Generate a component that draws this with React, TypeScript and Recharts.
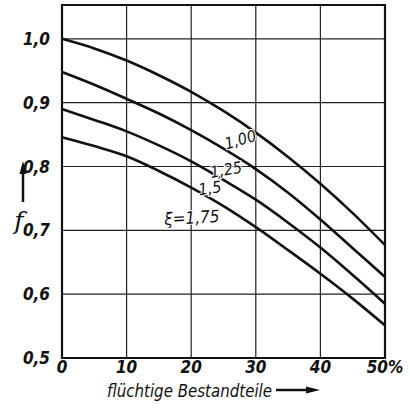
import React from 'react';
import {
  LineChart,
  Line,
  XAxis,
  YAxis,
  CartesianGrid,
  ReferenceArea,
  ReferenceDot,
  Customized,
} from 'recharts';

// flüchtige Bestandteile in %
const pct = [0, 5, 10, 15, 20, 25, 30, 35, 40, 45, 50];
// f for each xi curve
const xi100 = [1.0, 0.985, 0.966, 0.943, 0.917, 0.887, 0.853, 0.815, 0.773, 0.727, 0.677];
const xi125 = [0.948, 0.928, 0.906, 0.883, 0.857, 0.828, 0.796, 0.759, 0.717, 0.672, 0.627];
const xi150 = [0.89, 0.873, 0.855, 0.833, 0.808, 0.779, 0.748, 0.712, 0.673, 0.63, 0.585];
const xi175 = [0.846, 0.832, 0.816, 0.793, 0.767, 0.738, 0.705, 0.669, 0.632, 0.593, 0.551];

const xTicks = [0, 10, 20, 30, 40, 50];
const yTicks = [0.5, 0.6, 0.7, 0.8, 0.9, 1.0];
const yTop = 1.053;

// curve labels: text, x, y (data coords), rotation
const curveLabels = [
  { text: '1,00', x: 27.6, y: 0.842, angle: -16 },
  { text: '1,25', x: 25.4, y: 0.795, angle: -10 },
  { text: '1,5', x: 22.9, y: 0.766, angle: -8 },
  { text: 'ξ=1,75', x: 20.1, y: 0.72, angle: -3 },
];

const FONT = "'DejaVu Sans Condensed', 'DejaVu Sans', sans-serif";
const INK = '#111';

const data = pct.map((p, i) => ({
  p,
  a: xi100[i],
  b: xi125[i],
  c: xi150[i],
  d: xi175[i],
}));

const tickStyle = {
  fontSize: 17,
  fontStyle: 'italic',
  fontStretch: 'condensed',
  fontWeight: 'bold',
  fill: INK,
  fontFamily: FONT,
};

function Overlay() {
  return (
    <g>
      {/* f with arrow */}
      <line x1={23} y1={202} x2={23} y2={172} stroke={INK} strokeWidth={2.5} />
      <polygon points="23,161 19.5,174 26.5,174" fill={INK} />
      <text
        x={19}
        y={229}
        textAnchor="middle"
        fontFamily="'DejaVu Serif', serif"
        fontStyle="italic"
        fontSize={25}
        fill={INK}
      >
        f
      </text>
      {/* x axis title with arrow */}
      <text
        x={107}
        y={397}
        fontFamily={FONT}
        fontStyle="italic"
        fontStretch="condensed"
        fontSize={18}
        textLength={165}
        lengthAdjust="spacingAndGlyphs"
        fill={INK}
      >
        flüchtige Bestandteile
      </text>
      <line x1={276} y1={390} x2={308} y2={390} stroke={INK} strokeWidth={2.5} />
      <polygon points="320,390 306,386.5 306,393.5" fill={INK} />
    </g>
  );
}

export default function App() {
  return (
    <div
      style={{
        position: 'absolute',
        left: 0,
        top: 0,
        width: 410,
        height: 408,
        background: '#fff',
      }}
    >
      <LineChart
        width={410}
        height={408}
        data={data}
        margin={{ top: 5, right: 25, left: 0, bottom: 20 }}
      >
        <CartesianGrid stroke="#222" strokeWidth={1.2} />
        <XAxis
          dataKey="p"
          type="number"
          domain={[0, 50]}
          ticks={xTicks}
          tickFormatter={(v) => (v === 50 ? '50%' : String(v))}
          axisLine={false}
          tickLine={false}
          tickSize={2}
          tickMargin={1}
          height={30}
          tick={tickStyle}
        />
        <YAxis
          type="number"
          domain={[0.5, yTop]}
          ticks={yTicks}
          tickFormatter={(v) => v.toFixed(1).replace('.', ',')}
          axisLine={false}
          tickLine={false}
          tickSize={6}
          tickMargin={6}
          width={62}
          allowDataOverflow
          tick={tickStyle}
        />
        <ReferenceArea
          x1={0}
          x2={50}
          y1={0.5}
          y2={yTop}
          fill="none"
          stroke={INK}
          strokeWidth={2.2}
          ifOverflow="visible"
        />
        <Line type="monotone" dataKey="a" stroke={INK} strokeWidth={2.6} dot={false} isAnimationActive={false} />
        <Line type="monotone" dataKey="b" stroke={INK} strokeWidth={2.6} dot={false} isAnimationActive={false} />
        <Line type="monotone" dataKey="c" stroke={INK} strokeWidth={2.6} dot={false} isAnimationActive={false} />
        <Line type="monotone" dataKey="d" stroke={INK} strokeWidth={2.6} dot={false} isAnimationActive={false} />
        {curveLabels.map((l) => (
          <ReferenceDot
            key={l.text}
            x={l.x}
            y={l.y}
            r={0}
            shape={(p: any) => (
              <text
                x={p.cx}
                y={p.cy}
                textAnchor="middle"
                dominantBaseline="central"
                transform={`rotate(${l.angle} ${p.cx} ${p.cy})`}
                fontFamily={FONT}
                fontStyle="italic"
                fontStretch="condensed"
                fontSize={l.text.length > 4 ? 17 : 16}
                fill={INK}
                stroke="#fff"
                strokeWidth={2}
                paintOrder="stroke"
              >
                {l.text}
              </text>
            )}
          />
        ))}
        <Customized component={<Overlay />} />
      </LineChart>
    </div>
  );
}
